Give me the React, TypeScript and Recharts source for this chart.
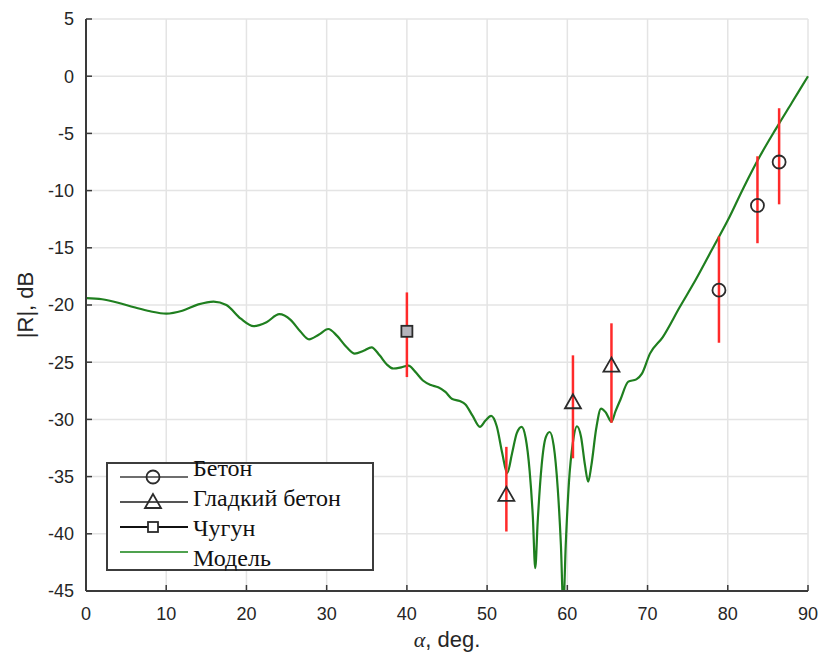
import React from "react";
import {
  ComposedChart,
  Line,
  Scatter,
  ErrorBar,
  XAxis,
  YAxis,
  CartesianGrid,
} from "recharts";

// ── Data ───────────────────────────────────────────────────────────────────────

const modelAngle = [
  0, 2, 4, 6, 8, 10, 12, 14, 15.9, 17.5, 19.3, 20.9, 22.5, 24.1, 25.5, 26.7, 27.8, 29,
  30.2, 31.3, 32.5, 33.5, 34.6, 35.6, 36.6, 37.5, 38.3, 39.3, 40.2, 41, 42, 43, 43.9, 44.8,
  45.6, 46.6, 47.3, 48.2, 49.1, 49.8, 50.5, 51.2, 51.9, 52.5, 53.1, 53.7, 54.3, 54.8, 55.3,
  55.7, 56.0, 56.3, 56.8, 57.3, 57.8, 58.3, 58.8, 59.2, 59.5, 59.8, 60.2, 60.7, 61.2, 61.7,
  62.2, 62.6, 63.0, 63.6, 64.2, 64.8, 65.5, 66.0, 66.6, 67.6, 68.6, 69.3, 70.3, 71.9, 74,
  76, 78, 80, 82, 84, 86, 88, 90,
];
const modelDb = [
  -19.4, -19.5, -19.8, -20.2, -20.55, -20.75, -20.5, -19.95, -19.7, -20.0, -21.2, -21.85,
  -21.5, -20.8, -21.3, -22.3, -23.0, -22.6, -22.1, -22.7, -23.7, -24.25, -24.0, -23.7,
  -24.4, -25.2, -25.55, -25.45, -25.3, -25.8, -26.6, -27.0, -27.2, -27.6, -28.2, -28.4,
  -28.7, -29.7, -30.65, -30.1, -29.7, -30.6, -33.0, -34.7, -33.0, -31.2, -30.65, -31.6,
  -34.5, -38.5, -43.0, -39.0, -34.0, -31.6, -31.1, -32.3, -36.0, -41.0, -46.5, -41.0,
  -35.5, -32.0, -30.6, -31.5, -34.0, -35.45, -34.0, -30.8, -29.05, -29.4, -30.2, -29.3,
  -28.3, -26.7, -26.5, -26.0, -24.25, -22.8, -20.2, -17.8, -15.2, -12.6, -9.7, -7.0,
  -4.6, -2.3, 0,
];

// Бетон (circles)
const betonAngle = [78.9, 83.7, 86.4];
const betonDb = [-18.7, -11.3, -7.5];
const betonLow = [-23.3, -14.6, -11.2];
const betonHigh = [-14.0, -7.0, -2.8];

// Гладкий бетон (triangles)
const smoothAngle = [52.4, 60.7, 65.5];
const smoothDb = [-36.6, -28.5, -25.3];
const smoothLow = [-39.8, -33.4, -30.3];
const smoothHigh = [-32.4, -24.4, -21.6];

// Чугун (squares)
const ironAngle = [40.0];
const ironDb = [-22.3];
const ironLow = [-26.3];
const ironHigh = [-18.9];

const xTicks = [0, 10, 20, 30, 40, 50, 60, 70, 80, 90];
const yTicks = [-45, -40, -35, -30, -25, -20, -15, -10, -5, 0, 5];

const legendLabels = ["Бетон", "Гладкий бетон", "Чугун", "Модель"];

// ── Theme ──────────────────────────────────────────────────────────────────────

const C = {
  grid: "#e4e4e4",
  axis: "#3a3a3a",
  text: "#262626",
  model: "#1f7f1f",
  err: "#ff2a2a",
  marker: "#2b2b2b",
} as const;

const SANS = "'Liberation Sans', Arial, sans-serif";
const SERIF = "'Liberation Serif', 'Times New Roman', serif";

// ── Build tables ───────────────────────────────────────────────────────────────

const modelData = modelAngle.map((x, i) => ({ x, y: modelDb[i] }));

function points(xs: number[], ys: number[], lo: number[], hi: number[]) {
  return xs.map((x, i) => ({ x, y: ys[i], err: [ys[i] - lo[i], hi[i] - ys[i]] }));
}

const betonData = points(betonAngle, betonDb, betonLow, betonHigh);
const smoothData = points(smoothAngle, smoothDb, smoothLow, smoothHigh);
const ironData = points(ironAngle, ironDb, ironLow, ironHigh);

// ── Markers ────────────────────────────────────────────────────────────────────

function CircleMark({ cx, cy }: any) {
  return <circle cx={cx} cy={cy} r={6.5} fill="none" stroke={C.marker} strokeWidth={1.8} />;
}

function TriangleMark({ cx, cy }: any) {
  return (
    <polygon
      points={`${cx},${cy - 8} ${cx - 8},${cy + 6} ${cx + 8},${cy + 6}`}
      fill="none"
      stroke={C.marker}
      strokeWidth={1.8}
    />
  );
}

function SquareMark({ cx, cy }: any) {
  return (
    <rect x={cx - 5.5} y={cy - 5.5} width={11} height={11} fill="#b4b4bc" stroke={C.marker} strokeWidth={1.8} />
  );
}

// ── Ticks (drawn inward, like the original) ───────────────────────────────────

const Y_MARGIN = 12;
const X_MARGIN = 10;

function YTick({ x, y, payload }: any) {
  const ax = x + Y_MARGIN;
  return (
    <g>
      <line x1={ax} y1={y} x2={ax + 6} y2={y} stroke={C.axis} strokeWidth={1.5} />
      <text x={x} y={y} dy="0.35em" textAnchor="end" fontFamily={SANS} fontSize={18} fill={C.text}>
        {payload.value}
      </text>
    </g>
  );
}

function XTick({ x, y, payload }: any) {
  const ay = y - X_MARGIN;
  return (
    <g>
      <line x1={x} y1={ay} x2={x} y2={ay - 6} stroke={C.axis} strokeWidth={1.5} />
      <text x={x} y={ay + 29} textAnchor="middle" fontFamily={SANS} fontSize={18} fill={C.text}>
        {payload.value}
      </text>
    </g>
  );
}

// ── Legend ─────────────────────────────────────────────────────────────────────

function LegendBox() {
  const lineColors = ["#6e6e6e", "#555555", "#111111", "#4fa24f"];
  const lineY = [15, 40, 65, 90];
  const textY = [14, 44, 74, 104];
  return (
    <svg
      width={268}
      height={110}
      style={{ position: "absolute", left: 106, top: 462, overflow: "visible" }}
    >
      <rect x={1} y={1} width={266} height={107} fill="#fff" stroke="#3c3c3c" strokeWidth={2} />
      {legendLabels.map((label, i) => (
        <g key={label}>
          <line x1={14} y1={lineY[i]} x2={82} y2={lineY[i]} stroke={lineColors[i]} strokeWidth={2} />
          {i === 0 && <CircleMark cx={47} cy={lineY[i]} />}
          {i === 1 && <TriangleMark cx={47} cy={lineY[i]} />}
          {i === 2 && (
            <rect x={42} y={lineY[i] - 5} width={10} height={10} fill="#fff" stroke={C.marker} strokeWidth={1.8} />
          )}
          <text x={87} y={textY[i]} fontFamily={SERIF} fontSize={24} fill="#111">
            {label}
          </text>
        </g>
      ))}
    </svg>
  );
}

// ── Component ──────────────────────────────────────────────────────────────────

export default function App() {
  return (
    <div
      style={{
        position: "absolute",
        left: 0,
        top: 0,
        width: 820,
        height: 657,
        background: "#fff",
      }}
    >
      <ComposedChart width={820} height={657} margin={{ top: 19, right: 12, bottom: 0, left: 0 }}>
        <CartesianGrid stroke={C.grid} strokeWidth={1.5} />

        <XAxis
          dataKey="x"
          type="number"
          domain={[0, 90]}
          ticks={xTicks}
          interval={0}
          height={66}
          tickSize={0}
          tickMargin={X_MARGIN}
          tick={<XTick />}
          axisLine={{ stroke: C.axis, strokeWidth: 2 }}
          label={{
            content: ({ viewBox }: any) => (
              <text
                x={viewBox.x + viewBox.width / 2}
                y={viewBox.y + 56}
                textAnchor="middle"
                fontFamily={SANS}
                fontSize={22}
                fill={C.text}
              >
                <tspan fontFamily={SERIF} fontStyle="italic">α</tspan>
                <tspan>, deg.</tspan>
              </text>
            ),
          }}
        />
        <YAxis
          type="number"
          domain={[-45, 5]}
          ticks={yTicks}
          interval={0}
          allowDataOverflow
          width={86}
          tickSize={0}
          tickMargin={Y_MARGIN}
          tick={<YTick />}
          axisLine={{ stroke: C.axis, strokeWidth: 2 }}
          label={{
            content: ({ viewBox }: any) => {
              const cx = viewBox.x + 25;
              const cy = viewBox.y + viewBox.height / 2;
              return (
                <text
                  x={cx}
                  y={cy}
                  transform={`rotate(-90 ${cx} ${cy})`}
                  textAnchor="middle"
                  dominantBaseline="central"
                  fontFamily={SANS}
                  fontSize={22}
                  fill={C.text}
                >
                  |R|, dB
                </text>
              );
            },
          }}
        />

        <Line
          data={modelData}
          dataKey="y"
          type="monotone"
          stroke={C.model}
          strokeWidth={2.2}
          dot={false}
          isAnimationActive={false}
        />

        <Scatter data={ironData} dataKey="y" shape={<SquareMark />} isAnimationActive={false}>
          <ErrorBar dataKey="err" direction="y" width={0} stroke={C.err} strokeWidth={2.5} />
        </Scatter>
        <Scatter data={smoothData} dataKey="y" shape={<TriangleMark />} isAnimationActive={false}>
          <ErrorBar dataKey="err" direction="y" width={0} stroke={C.err} strokeWidth={2.5} />
        </Scatter>
        <Scatter data={betonData} dataKey="y" shape={<CircleMark />} isAnimationActive={false}>
          <ErrorBar dataKey="err" direction="y" width={0} stroke={C.err} strokeWidth={2.5} />
        </Scatter>
      </ComposedChart>
      <LegendBox />
    </div>
  );
}
